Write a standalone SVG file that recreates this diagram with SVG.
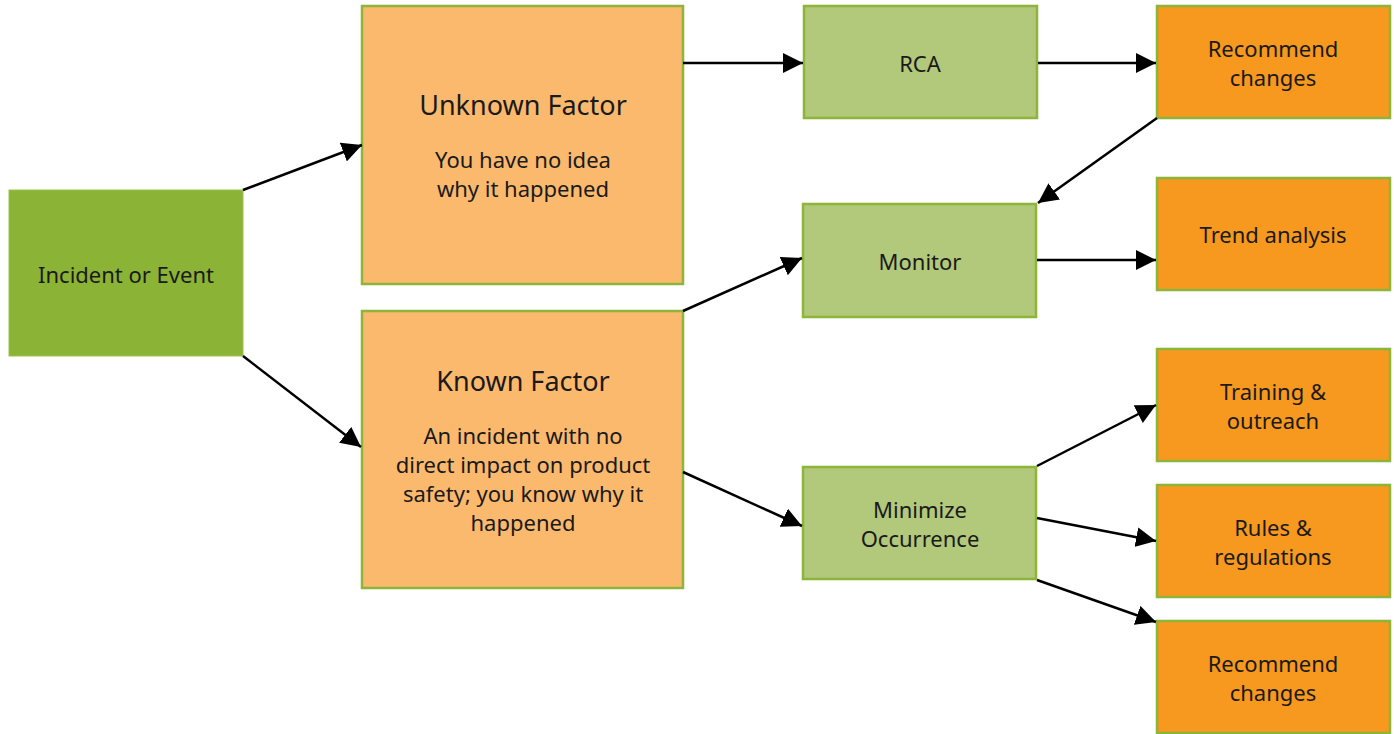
<svg xmlns="http://www.w3.org/2000/svg" width="1394" height="734" viewBox="0 0 1394 734">
  <style>
    text { font-family: "Noto Sans", "Liberation Sans", sans-serif; fill: #1a1a1a; text-anchor: middle; }
    .t { font-size: 22px; }
    .h { font-size: 27px; }
    .root { fill: #8BB335; stroke: #9DC052; stroke-width: 1; }
    .factor { fill: #FBB96E; stroke: #8DB53A; stroke-width: 2.5; }
    .action { fill: #B2C87A; stroke: #8DB53A; stroke-width: 2.5; }
    .result { fill: #F7981F; stroke: #8DB53A; stroke-width: 2.5; }
    .conn line { stroke: #000; stroke-width: 2.5; marker-end: url(#arrow); }
  </style>
  <defs>
    <marker id="arrow" viewBox="0 0 10 10" refX="10" refY="5" markerWidth="8" markerHeight="8" orient="auto">
      <path d="M0,0 L10,5 L0,10 z" fill="#000"/>
    </marker>
  </defs>

  <g id="incident">
    <rect class="root" x="9" y="190" width="234" height="166"/>
    <text class="t" x="126" y="283">Incident or Event</text>
  </g>

  <g id="unknown-factor">
    <rect class="factor" x="362" y="6" width="321" height="278"/>
    <text class="h" x="523" y="115">Unknown Factor</text>
    <text class="t" x="523" y="168">You have no idea</text>
    <text class="t" x="523" y="197">why it happened</text>
  </g>

  <g id="known-factor">
    <rect class="factor" x="362" y="311" width="321" height="277"/>
    <text class="h" x="523" y="391">Known Factor</text>
    <text class="t" x="523" y="444">An incident with no</text>
    <text class="t" x="523" y="473">direct impact on product</text>
    <text class="t" x="523" y="502">safety; you know why it</text>
    <text class="t" x="523" y="531">happened</text>
  </g>

  <g id="rca">
    <rect class="action" x="804" y="6" width="233" height="112"/>
    <text class="t" x="920" y="72">RCA</text>
  </g>

  <g id="monitor">
    <rect class="action" x="803" y="204" width="233" height="113"/>
    <text class="t" x="920" y="270">Monitor</text>
  </g>

  <g id="minimize">
    <rect class="action" x="803" y="467" width="233" height="112"/>
    <text class="t" x="920" y="518">Minimize</text>
    <text class="t" x="920" y="547">Occurrence</text>
  </g>

  <g id="recommend-top">
    <rect class="result" x="1157" y="6" width="233" height="112"/>
    <text class="t" x="1273" y="57">Recommend</text>
    <text class="t" x="1273" y="86">changes</text>
  </g>

  <g id="trend">
    <rect class="result" x="1157" y="178" width="233" height="112"/>
    <text class="t" x="1273" y="243">Trend analysis</text>
  </g>

  <g id="training">
    <rect class="result" x="1157" y="349" width="233" height="112"/>
    <text class="t" x="1273" y="400">Training &amp;</text>
    <text class="t" x="1273" y="429">outreach</text>
  </g>

  <g id="rules">
    <rect class="result" x="1157" y="485" width="233" height="112"/>
    <text class="t" x="1273" y="536">Rules &amp;</text>
    <text class="t" x="1273" y="565">regulations</text>
  </g>

  <g id="recommend-bottom">
    <rect class="result" x="1157" y="621" width="233" height="112"/>
    <text class="t" x="1273" y="672">Recommend</text>
    <text class="t" x="1273" y="701">changes</text>
  </g>

  <g id="connectors" class="conn">
    <line x1="243" y1="190" x2="362" y2="145"/>
    <line x1="243" y1="356" x2="361" y2="447"/>
    <line x1="683" y1="63" x2="803" y2="63"/>
    <line x1="1038" y1="63" x2="1156" y2="63"/>
    <line x1="1157" y1="118" x2="1038" y2="203"/>
    <line x1="683" y1="311" x2="802" y2="258"/>
    <line x1="683" y1="472" x2="802" y2="526"/>
    <line x1="1037" y1="260" x2="1156" y2="260"/>
    <line x1="1037" y1="466" x2="1156" y2="405"/>
    <line x1="1037" y1="518" x2="1156" y2="541"/>
    <line x1="1037" y1="580" x2="1156" y2="622"/>
  </g>
</svg>
